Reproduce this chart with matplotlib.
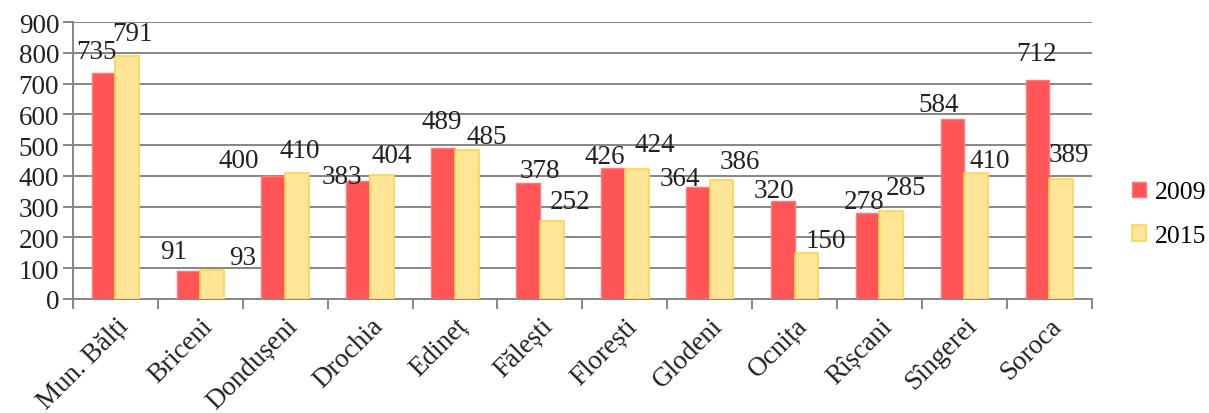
import matplotlib.pyplot as plt
import numpy as np
from matplotlib.patches import Patch

# data
districts = ["Mun. Bălți", "Briceni", "Dondușeni", "Drochia", "Edineț", "Fălești",
             "Florești", "Glodeni", "Ocnița", "Rîșcani", "Sîngerei", "Soroca"]
vals_2009 = [735, 91, 400, 383, 489, 378, 426, 364, 320, 278, 584, 712]
vals_2015 = [791, 93, 410, 404, 485, 252, 424, 386, 150, 285, 410, 389]

# label nudges (pixels: dx from bar centre, dy above bar top)
off_2009 = [(-7, 21), (-15, 19), (-35, 15), (-16, 5), (-1, 27), (12, 12),
            (-8, 11), (-18, 8), (-9, 10), (-4, 12), (-14, 15), (-1, 26)]
off_2015 = [(5, 22), (30, 13), (3, 22), (10, 19), (20, 13), (18, 20),
            (18, 24), (18, 19), (19, 12), (15, 24), (13, 12), (8, 25)]

RED = "#FF5557"
RED_EDGE = "#FF7B7B"
YEL = "#FFE597"
YEL_EDGE = "#FFD44F"
GRID = "#868686"
TXT = "#222222"
FS = 19.5

plt.rcParams["font.family"] = ["Liberation Serif", "DejaVu Serif"]

fig = plt.figure(figsize=(12.09, 4.14), dpi=100)
ax = fig.add_axes([0.0604, 0.2754, 0.8426, 0.669])

x = np.arange(len(districts))
w = 0.28
b1 = ax.bar(x - w / 2, vals_2009, w, color=RED, edgecolor=RED_EDGE, linewidth=1, zorder=3)
b2 = ax.bar(x + w / 2, vals_2015, w, color=YEL, edgecolor=YEL_EDGE, linewidth=1.2, zorder=3)

for bars, vals, offs in [(b1, vals_2009, off_2009), (b2, vals_2015, off_2015)]:
    for bar, v, (dx, dy) in zip(bars, vals, offs):
        ax.annotate(str(v), (bar.get_x() + bar.get_width() / 2, v),
                    xytext=(dx, dy), textcoords="offset pixels",
                    ha="center", va="center", fontsize=FS, color=TXT, zorder=5)

ax.set_xlim(-0.5, len(districts) - 0.5)
ax.set_ylim(0, 900)
ax.set_yticks(range(0, 901, 100))
ax.yaxis.grid(True, color=GRID, linewidth=1.4, zorder=0)
ax.set_axisbelow(True)

ax.set_xticks(np.arange(-0.5, len(districts), 1))
ax.set_xticklabels([])
ax.set_xticks(x, minor=True)
ax.set_xticklabels(districts, minor=True, rotation=45, ha="right",
                   rotation_mode="anchor", fontsize=FS, color=TXT)
ax.tick_params(axis="x", which="minor", length=0, pad=10)
ax.tick_params(axis="x", which="major", length=7, width=1.4, color=GRID)
ax.tick_params(axis="y", length=7, width=1.4, color=GRID, labelsize=FS,
               labelcolor=TXT, pad=3)

for s in ["top", "right"]:
    ax.spines[s].set_visible(False)
for s in ["left", "bottom"]:
    ax.spines[s].set_color(GRID)
    ax.spines[s].set_linewidth(1.4)

handles = [Patch(facecolor=RED, edgecolor=RED_EDGE, label="2009"),
           Patch(facecolor=YEL, edgecolor=YEL_EDGE, linewidth=1.2, label="2015")]
fig.legend(handles=handles, loc="center left", bbox_to_anchor=(0.934, 0.48),
           frameon=False, fontsize=18.5, handlelength=0.55, handleheight=0.55,
           handletextpad=0.35, labelspacing=0.85, borderpad=0.1,
           borderaxespad=0)

fig.savefig("out.png", dpi=100)
